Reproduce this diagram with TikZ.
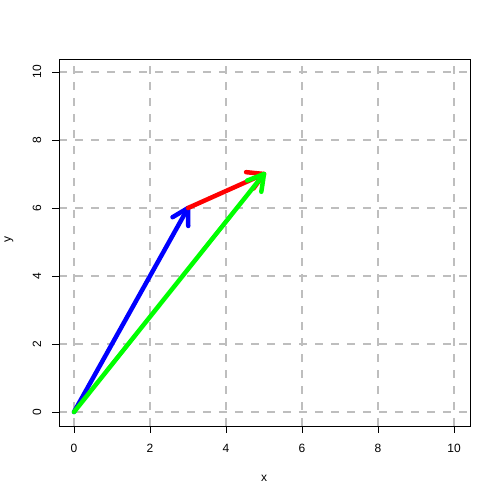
\documentclass[tikz,border=0pt]{standalone}
\usepackage{fontspec}
\setmainfont{Liberation Sans}
\usetikzlibrary{calc}
\definecolor{gridgray}{RGB}{190,190,190}
\definecolor{vblue}{RGB}{0,0,255}
\definecolor{vred}{RGB}{255,0,0}
\definecolor{vgreen}{RGB}{0,255,0}
\begin{document}
\begin{tikzpicture}[x=1pt,y=1pt,
  gridline/.style={draw=gridgray,line width=2pt,dash pattern=on 8pt off 8pt},
  vec/.style={line width=4.5pt,line cap=round,line join=round},
  ticklab/.style={font=\fontsize{12}{14}\selectfont,inner sep=0pt},
  tickmark/.style={line width=0.8pt}]
\useasboundingbox (0,0) rectangle (500,500);
\fill[white] (0,0) rectangle (500,500);
% grid
\foreach \i in {0,2,...,10}{
  \draw[gridline] ({74+38*\i},74) -- ({74+38*\i},441);
  \draw[gridline] (59,{88+34*\i}) -- (470,{88+34*\i});
}
% box
\draw[line width=0.8pt] (59,74) rectangle (470,441);
% ticks and labels
\foreach \i in {0,2,...,10}{
  \draw[tickmark] ({74+38*\i},74) -- ({74+38*\i},67);
  \node[ticklab] (xl\i) at ({74+38*\i},52) {\i};
  \draw[tickmark] (59,{88+34*\i}) -- (52,{88+34*\i});
  \node[ticklab,rotate=90] (yl\i) at (37,{88+34*\i}) {\i};
}
\node[ticklab] (xlab) at (264,22) {x};
\node[ticklab,rotate=90] (ylab) at (9,260) {y};
% vectors
\coordinate (O) at (74,88);
\coordinate (A) at (188,292);
\coordinate (B) at (264,326);
\draw[vec,vblue] (O) -- (A);
\draw[vec,vblue] ($(A)!18pt!30:(O)$) -- (A) -- ($(A)!18pt!-30:(O)$);
\draw[vec,vred] (A) -- (B);
\draw[vec,vred] ($(B)!18pt!30:(A)$) -- (B) -- ($(B)!18pt!-30:(A)$);
\draw[vec,vgreen] (O) -- (B);
\draw[vec,vgreen] ($(B)!18pt!30:(O)$) -- (B) -- ($(B)!18pt!-30:(O)$);
\end{tikzpicture}
\end{document}
